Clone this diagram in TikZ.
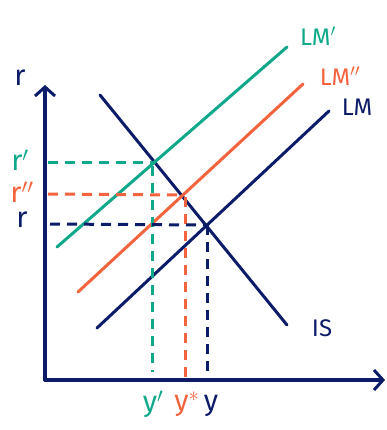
\documentclass[tikz,border=0pt]{standalone}
\usepackage{fontspec}
\setmainfont{Fira Sans}
\usetikzlibrary{arrows.meta}
\definecolor{navy}{RGB}{12,28,104}
\definecolor{teal2}{RGB}{16,168,138}
\definecolor{orng}{RGB}{243,100,62}
\begin{document}
\begin{tikzpicture}[x=1pt,y=-1pt,
  axis/.style={navy,line width=3.4pt,line cap=round,-{Straight Barb[length=9pt,width=20pt,line width=3pt]}},
  curve/.style={line width=3pt,line cap=round},
  guide/.style={line width=3pt,dash pattern=on 10pt off 7pt},
  lab/.style={inner sep=0pt,font=\fontsize{29}{29}\selectfont},
  slab/.style={inner sep=0pt,font=\fontsize{24}{24}\selectfont}]
\useasboundingbox (0,0) rectangle (387,430);
% axes
\coordinate (O) at (45,380);
\coordinate (ytop) at (45,85);
\coordinate (xend) at (385,380);
\draw[axis] (O) -- (ytop);
\draw[axis] (O) -- (xend);
% curves
\coordinate (is1) at (100,95);
\coordinate (is2) at (287,325);
\coordinate (lmp1) at (57,247);
\coordinate (lmp2) at (287,47);
\coordinate (lmpp1) at (78,292);
\coordinate (lmpp2) at (303,84);
\coordinate (lm1) at (97,328);
\coordinate (lm2) at (329,111);
\draw[curve,navy] (is1) -- (is2);
\draw[curve,teal2] (lmp1) -- (lmp2);
\draw[curve,orng] (lmpp1) -- (lmpp2);
\draw[curve,navy] (lm1) -- (lm2);
% equilibrium points
\coordinate (Ep) at (155,163);
\coordinate (Epp) at (184,195);
\coordinate (E) at (207,225);
% guides
\coordinate (rp) at (48,163);
\coordinate (rpp) at (48,194);
\coordinate (r0) at (50,224);
\coordinate (ypt) at (152,372);
\coordinate (yspt) at (185,380);
\coordinate (y0pt) at (207,372);
\draw[guide,teal2] (rp) -- (Ep);
\draw[guide,teal2] (152,166) -- (ypt);
\draw[guide,orng] (rpp) -- (Epp);
\draw[guide,orng] (185,197) -- (yspt);
\draw[guide,navy] (r0) -- (E);
\draw[guide,navy] (E) -- (y0pt);
% labels
\node[lab,navy] (rax) at (20,78) {r};
\node[lab,teal2] (rlp) at (20,160) {r$'$};
\node[lab,orng] (rlpp) at (22,192) {r$''$};
\node[lab,navy] (rl) at (22,220) {r};
\node[slab,teal2] (LMp) at (318,36) {LM$'$};
\node[slab,orng] (LMpp) at (340,76) {LM$''$};
\node[slab,navy] (LM) at (357,107) {LM};
\node[slab,navy] (IS) at (322,328) {IS};
\node[lab,teal2] (yp) at (153,404) {y$'$};
\node[lab,orng] (ys) at (187,404) {y$^{*}$};
\node[lab,navy] (y0) at (211,406) {y};
\end{tikzpicture}
\end{document}
